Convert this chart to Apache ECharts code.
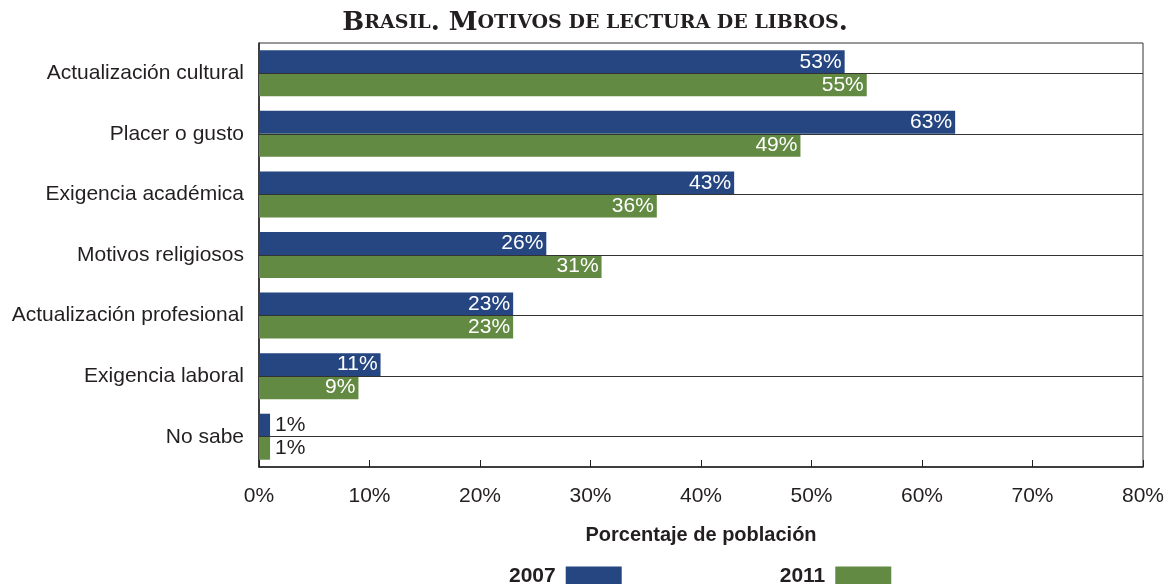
<!DOCTYPE html>
<html lang="es">
<head>
    <meta charset="UTF-8">
    <title>Brasil. Motivos de lectura de libros</title>
    <script src="https://cdn.jsdelivr.net/npm/echarts@6/dist/echarts.min.js"></script>
    <style>
      html, body { margin: 0; padding: 0; background: #fff; }
    </style>
</head>
<body>
    <div id="chart" style="width:1170px; height:584px;"></div>

    <script type="text/javascript">
      var categorias = ['Actualización cultural', 'Placer o gusto', 'Exigencia académica', 'Motivos religiosos',
        'Actualización profesional', 'Exigencia laboral', 'No sabe'];
      var valores2007 = [53, 63, 43, 26, 23, 11, 1];
      var valores2011 = [55, 49, 36, 31, 23, 9, 1];
      var ticksX = [0, 10, 20, 30, 40, 50, 60, 70, 80];

      var fuente = "'Liberation Sans Narrow', 'Arial Narrow', 'Liberation Sans', sans-serif";
      var serif = "'DejaVu Serif', 'Liberation Serif', serif";

      // las barras muy cortas llevan la etiqueta fuera, en oscuro
      var conEtiquetas = function (vals) {
        return vals.map(function (v) {
          if (v < 5) {
            return { value: v, label: { position: 'right', color: '#231f20', distance: 5 } };
          }
          return v;
        });
      };

      var myChart = echarts.init(document.getElementById('chart'));
      var option = {
        animation: false,
        title: {
          text: '{g|B}{p|RASIL}{g|. M}{p|OTIVOS DE LECTURA DE LIBROS}{g|.}',
          left: 590,
          textAlign: 'center',
          top: 5,
          textStyle: {
            rich: {
              g: { fontFamily: serif, fontWeight: 'bold', fontSize: 26, color: '#231f20' },
              p: { fontFamily: serif, fontWeight: 'bold', fontSize: 19, color: '#231f20' }
            }
          }
        },
        legend: {
          data: ['2007', '2011'],
          left: 504,
          top: 561,
          align: 'right',
          itemWidth: 56,
          itemHeight: 20,
          itemGap: 158,
          icon: 'rect',
          textStyle: { fontFamily: fuente, fontWeight: 'bold', fontSize: 21, color: '#231f20', padding: [0, 5, 0, 0] }
        },
        grid: {
          left: 259,
          top: 43,
          width: 884,
          height: 424,
          show: true,
          borderColor: '#333',
          borderWidth: 1,
          backgroundColor: 'transparent'
        },
        xAxis: {
          type: 'value',
          min: ticksX[0],
          max: ticksX[ticksX.length - 1],
          interval: 10,
          name: 'Porcentaje de población',
          nameLocation: 'middle',
          nameGap: 58,
          nameTextStyle: { fontFamily: fuente, fontWeight: 'bold', fontSize: 20, color: '#231f20' },
          axisLine: { show: true, lineStyle: { color: '#231f20', width: 1.5 } },
          axisTick: { show: true, inside: true, length: 7, lineStyle: { color: '#231f20' } },
          splitLine: { show: false },
          axisLabel: {
            fontFamily: fuente, fontSize: 21, color: '#231f20', margin: 19,
            formatter: '{value}%'
          }
        },
        yAxis: {
          type: 'category',
          data: categorias,
          inverse: true,
          axisLine: { show: true, lineStyle: { color: '#231f20', width: 1.5 } },
          axisTick: { show: false },
          splitLine: { show: false },
          axisLabel: { fontFamily: fuente, fontSize: 21, color: '#231f20', margin: 15, padding: [10, 0, 0, 0] }
        },
        series: [
          {
            name: '2007',
            type: 'bar',
            data: conEtiquetas(valores2007),
            barWidth: 23,
            barGap: '0%',
            itemStyle: { color: '#254681' },
            label: {
              show: true, position: 'insideRight', distance: 3, formatter: '{c}%',
              fontFamily: fuente, fontSize: 21, color: '#fff'
            }
          },
          {
            name: '2011',
            type: 'bar',
            data: conEtiquetas(valores2011),
            barWidth: 23,
            barGap: '0%',
            itemStyle: { color: '#638a42' },
            label: {
              show: true, position: 'insideRight', distance: 3, formatter: '{c}%',
              fontFamily: fuente, fontSize: 21, color: '#fff'
            }
          },
          {
            // líneas horizontales en el centro de cada categoría
            name: 'lineas',
            type: 'line',
            data: [],
            z: 5,
            markLine: {
              silent: true,
              symbol: 'none',
              label: { show: false },
              lineStyle: { color: '#333', type: 'solid', width: 1 },
              data: categorias.map(function (c) { return { yAxis: c }; })
            }
          }
        ]
      };
      myChart.setOption(option);
    </script>
</body>
</html>
